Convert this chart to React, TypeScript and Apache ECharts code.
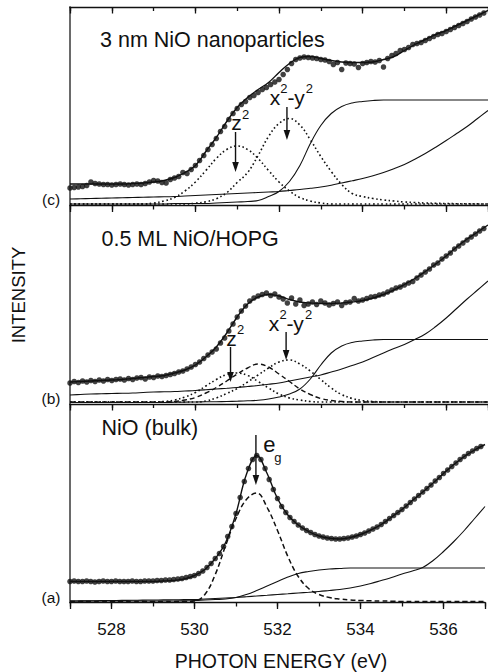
import React, { useEffect, useRef } from "react";
import * as echarts from "echarts";

// ---------- data ----------
const E_MIN = 527;
const E_MAX = 537;
const MAJOR_SPLITS = 5; // labelled ticks every 2 eV (528 … 536)
// sample energies of the fitted curves (0.25 eV grid) and of the measured points (0.1 eV grid)
const CURVE_E = Array.from({ length: 41 }, (_, i) => E_MIN + i * 0.25);
const DOT_E = Array.from({ length: 100 }, (_, i) => +(E_MIN + i * 0.1).toFixed(1));

const PANEL_TITLES = ["3 nm NiO nanoparticles", "0.5 ML NiO/HOPG", "NiO (bulk)"];
const PANEL_TAGS = ["(c)", "(b)", "(a)"];
const X_NAME = "PHOTON ENERGY (eV)";
const Y_NAME = "INTENSITY";

// ---- panel (c) 3 nm NiO nanoparticles ----
const dotsC = [
  17.5, 18, 18.5, 19, 20, 23.5, 22, 21.5, 21, 21,
  20.5, 21, 21.5, 21, 20.5, 21, 21.5, 21, 22, 23.5,
  25, 24.5, 23, 22.5, 26, 27.5, 29, 33, 32, 36,
  40, 45, 50, 56, 61, 67, 74, 79, 86, 92,
  97, 101, 104, 108, 110, 113, 116, 118, 121, 123.5,
  126, 131, 136, 142, 146, 147.5, 148.5, 148, 147.5, 147,
  146, 145.5, 144, 141, 143, 136, 142.5, 142, 141.5, 138,
  142, 143, 144, 143.5, 145, 138.5, 147, 150, 152, 155,
  156, 158, 161, 162, 163, 165, 167, 169, 171, 172,
  174, 176, 178, 180, 182, 184, 186.5, 188.5, 190.5, 192.5,
];
const fitC = [
  21.5, 21.5, 21.5, 21.5, 21.5, 21.5, 22, 22.5, 23.5, 25,
  28, 33, 40, 54, 68, 84, 98, 108, 116, 123,
  133, 142, 148, 149, 147, 145, 143.5, 143, 143, 143.5,
  146, 149, 155, 161, 166, 171, 175, 180, 185, 190, 195,
];
const stepC = [
  1.5, 1.5, 1.5, 1.5, 1.5, 1.5, 1.5, 1.5, 1.5, 1.5,
  2, 2, 2, 2, 2.5, 3, 3.5, 4, 5, 9,
  14, 24, 40, 62, 80, 92, 99, 102.5, 104, 105,
  105.5, 105.5, 105.5, 105.5, 105.5, 105.5, 105.5, 105.5, 105.5, 105.5, 105.5,
];
const bgC = [
  6.5, 6.7, 7, 7.2, 7.5, 7.7, 8, 8.2, 8.5, 8.7,
  9, 9.5, 10, 10.5, 11, 11.5, 12, 12.5, 13, 13.5,
  14, 15, 16, 17.2, 18.5, 20.3, 22.5, 24.7, 27, 29.8,
  33, 36.8, 41, 46.3, 52, 58.3, 65, 72, 79, 87, 95,
];
const z2C = [
  1.5, 1.5, 1.5, 1.5, 1.5, 1.5, 1.5, 1.5, 2.5, 4.5,
  8, 14.5, 23.5, 35, 47, 56, 59.5, 56, 47, 35,
  23.5, 14.5, 8, 4.5, 2.5, 1.5, 1.5, 1.5, 1.5, 1.5,
  1.5, 1.5, 1.5, 1.5, 1.5, 1.5, 1.5, 1.5, 1.5, 1.5, 1.5,
];
const x2y2C = [
  1.5, 1.5, 1.5, 1.5, 1.5, 1.5, 1.5, 1.5, 1.5, 1.5,
  1.5, 1.5, 2.3, 3.7, 6.8, 12.8, 23, 33, 50, 69,
  82, 87, 80.4, 65.7, 49, 34, 21, 12, 9, 7,
  5.5, 4.5, 3.5, 3, 2.5, 2.2, 2, 1.8, 1.7, 1.6, 1.5,
];

// ---- panel (b) 0.5 ML NiO/HOPG ----
const dotsB = [
  21, 22.5, 21.5, 23, 22, 23.5, 22.5, 24, 23, 24.5,
  23.5, 24.5, 25, 24, 25.5, 24.5, 26, 26.5, 25, 27,
  26.5, 28, 27.5, 28.5, 29.5, 30.5, 32, 33, 35, 37,
  39.5, 42, 45.5, 49, 52, 55, 61, 66, 73, 80,
  87, 93, 98, 103, 106, 108, 109.5, 111, 108.5, 110,
  107, 105, 101, 106, 100, 104, 98.5, 100, 102, 99.5,
  103, 101, 99, 100.5, 102, 98.5, 101.5, 102, 105.5, 103,
  104, 105.5, 107, 107.5, 109, 110, 112, 114, 116, 117,
  119, 121, 122.5, 126, 129, 132, 135, 139, 141, 145,
  148, 151, 155, 158, 161, 164, 167, 170, 173, 175.5,
];
const fitB = [
  22, 22.5, 23, 23.5, 24, 24.5, 25.5, 26.5, 27.5, 28.5,
  31, 34, 39, 47, 57, 71, 87, 100, 107, 109.5,
  108, 104.5, 102, 101, 100.5, 100.5, 101, 102, 103.5, 106,
  109.5, 114, 119.5, 125.5, 132.5, 140, 148, 157, 165, 172, 179,
];
const stepB = [
  1.5, 1.5, 1.5, 1.5, 1.5, 1.5, 1.5, 1.5, 1.5, 1.5,
  1.7, 1.9, 2, 2.2, 2.3, 2.5, 2.8, 3.2, 3.8, 5,
  7, 10, 15, 25, 39, 51, 58, 61.5, 63, 64,
  64.5, 64.5, 64.5, 64.5, 64.5, 64.5, 64.5, 64.5, 64.5, 64.5, 64.5,
];
const bgB = [
  9, 9.5, 10, 10.2, 10.5, 10.7, 11, 11.5, 12, 12.2,
  12.5, 13, 13.5, 14.2, 15, 15.7, 16.5, 17.5, 18.5, 19.7,
  21, 23, 25, 27, 29, 32, 35, 38.5, 42, 46.5,
  51, 55.5, 59.5, 64.5, 70, 77.5, 86, 95.5, 105, 114, 123,
];
const z2B = [
  2, 2, 2, 2, 2, 2, 2, 2, 2, 2.5,
  4, 7, 11.5, 18, 24.5, 29.5, 31, 28.5, 22.5, 16,
  10, 6, 4, 2.5, 2, 2, 2, 2, 2, 2,
  2, 2, 2, 2, 2, 2, 2, 2, 2, 2, 2,
];
const midB = [
  2, 2, 2, 2, 2, 2, 2, 2, 2, 2,
  2.5, 4, 6.5, 11, 16.5, 23, 30, 36, 40, 37,
  30, 22.5, 15, 9.5, 5.5, 3.5, 2.5, 2, 2, 2,
  2, 2, 2, 2, 2, 2, 2, 2, 2, 2, 2,
];
const x2y2B = [
  2, 2, 2, 2, 2, 2, 2, 2, 2, 2,
  2, 2, 2, 3, 6, 10.5, 15.5, 22, 29, 36,
  42, 44, 40, 33, 24.5, 16, 9.5, 5.5, 3.5, 2.5,
  2, 2, 2, 2, 2, 2, 2, 2, 2, 2, 2,
];

// ---- panel (a) NiO (bulk) ----
const dotsA = [
  21, 21.5, 21, 21, 21.5, 21, 20.5, 21, 21.5, 21,
  21, 21.5, 21, 21, 21, 21.5, 21, 21, 21.5, 21.5,
  21.5, 22, 22, 22.5, 22.5, 23, 23.5, 24, 25, 26,
  27, 29, 31.5, 35, 39, 44, 49, 56, 66, 76,
  89, 105, 121, 134, 143, 147, 143, 134, 123, 113,
  104, 96, 90, 85, 81, 77.5, 74.5, 72, 70, 68,
  66.5, 65.5, 64.5, 64, 63.5, 63.5, 64, 64.5, 65.5, 66.5,
  68, 69.5, 71.5, 73.5, 75.5, 78, 81, 84, 87, 90,
  93, 96.5, 100, 103.5, 107, 110.5, 114, 117.5, 121.5, 125,
  129, 132.5, 136, 139.5, 143, 146, 149, 151.5, 154, 156,
];
const fitA = [
  21, 21, 21, 21, 21, 21, 21, 21, 21, 21.5,
  22, 23.5, 27, 33, 44, 60, 89, 128, 147, 129,
  104, 87.5, 77.5, 71, 66.5, 64.2, 63.5, 65, 68, 72.5,
  78, 85.5, 93, 102, 110.5, 119.5, 129, 138, 146, 152.5, 158,
];
const stepA = [
  1.5, 1.5, 1.5, 1.5, 1.5, 1.5, 1.5, 1.5, 1.5, 1.5,
  1.5, 1.7, 2, 2.5, 3, 3.5, 5, 8, 12, 16.5,
  21, 25.5, 29, 31, 32.5, 33.5, 34, 34.5, 34.5, 34.5,
  34.5, 34.5, 34.5, 34.5, 34.5, 34.5, 34.5, 34.5, 34.5, 34.5, 34.5,
];
const bgA = [
  1.5, 1.6, 1.7, 1.9, 2, 2.1, 2.2, 2.4, 2.5, 2.6,
  2.7, 2.9, 3, 3.5, 4, 4.5, 5, 5.7, 6.5, 7.2,
  8, 8.7, 9.5, 10.2, 11, 12, 13, 14.5, 16.5, 19,
  22, 25, 28.5, 31.5, 35, 42, 51, 61, 72, 84, 96,
];
const egA = [
  1, 1, 1, 1, 1, 1, 1, 1, 1, 1,
  1, 1, 1.5, 8, 28, 57, 84, 103, 109.5, 95,
  72, 46, 26, 14, 8, 5, 3.5, 2.5, 2, 1.7,
  1.5, 1.3, 1, 1, 1, 1, 1, 1, 1, 1, 1,
];

// ---------- layout / style ----------
const FONT = "'Liberation Sans', Arial, Helvetica, sans-serif";
const GRID_LEFT = 70;
const GRID_WIDTH = 422;
const PANEL_TOPS = [7, 205.5, 404];
const PANEL_H = 198.5;
const Y_MAX = 198.5;
const INK = "#111";

type Part = { t: string; dx: number; dy: number; size: number };
const SUP = (dx: number, dy: number): Part => ({ t: "2", dx, dy, size: 13 });
const ARROWS: { panel: number; e: number; from: number; to: number; parts: Part[] }[] = [
  {
    panel: 0, e: 530.96, from: 73.5, to: 33.5,
    parts: [{ t: "z", dx: 1, dy: -10, size: 21 }, SUP(10, -18)],
  },
  {
    panel: 0, e: 532.19, from: 98.5, to: 65.5,
    parts: [
      { t: "x", dx: -12, dy: -10, size: 21 }, SUP(-3, -18.5),
      { t: "-", dx: 4, dy: -10, size: 21 },
      { t: "y", dx: 12.5, dy: -10, size: 21 }, SUP(22.5, -18.5),
    ],
  },
  {
    panel: 1, e: 530.84, from: 57, to: 22,
    parts: [{ t: "z", dx: 1, dy: -9, size: 21 }, SUP(10, -17.5)],
  },
  {
    panel: 1, e: 532.17, from: 72, to: 44,
    parts: [
      { t: "x", dx: -12, dy: -9, size: 21 }, SUP(-3, -17.5),
      { t: "-", dx: 4, dy: -9, size: 21 },
      { t: "y", dx: 12.5, dy: -9, size: 21 }, SUP(22.5, -17.5),
    ],
  },
  {
    panel: 2, e: 531.48, from: 167.5, to: 117.5,
    parts: [
      { t: "e", dx: 13.5, dy: 9, size: 22 },
      { t: "g", dx: 22, dy: 22, size: 13 },
    ],
  },
];

const pairs = (xs: number[], ys: number[]) => xs.map((x, i) => [x, ys[i]]);

export default function App() {
  const ref = useRef<HTMLDivElement>(null);

  useEffect(() => {
    if (!ref.current) return;
    const chart = echarts.init(ref.current, null, { renderer: "svg" });

    const grids = PANEL_TOPS.map((top) => ({
      left: GRID_LEFT, top, width: GRID_WIDTH, height: PANEL_H, containLabel: false,
    }));

    // major axis: automatic 2 eV ticks (528…536) with labels; minor axis: 1 eV short ticks
    const mkX = (gridIndex: number, position: "bottom" | "top", major: boolean, labels: boolean, inside: boolean) => ({
      type: "value", gridIndex, position, min: E_MIN, max: E_MAX,
      ...(major ? { splitNumber: MAJOR_SPLITS } : { interval: 1 }),
      axisLine: { show: major, onZero: false, lineStyle: { color: INK, width: 1.4 } },
      axisTick: { show: true, inside, length: major ? 6.5 : 4, lineStyle: { color: INK, width: 1.3 } },
      axisLabel: labels
        ? {
            show: true, margin: 18, color: INK, fontSize: 17, fontFamily: FONT,
            showMinLabel: true, showMaxLabel: true,
            formatter: (v: number) => (v % 2 === 0 ? String(v) : ""),
          }
        : { show: false },
      splitLine: { show: false },
      minorTick: { show: false },
    });

    const xAxis = [
      mkX(0, "bottom", true, false, false), // 0
      mkX(0, "bottom", false, false, false), // 1
      mkX(0, "top", true, false, true), // 2
      mkX(0, "top", false, false, true), // 3
      mkX(1, "bottom", true, false, false), // 4
      mkX(1, "bottom", false, false, false), // 5
      mkX(2, "bottom", true, true, false), // 6
      mkX(2, "bottom", false, false, false), // 7
    ];
    const X_OF_PANEL = [0, 4, 6];

    const yAxis = [0, 1, 2].map((g) => ({
      type: "value", gridIndex: g, min: 0, max: Y_MAX,
      axisLine: { show: true, lineStyle: { color: "#5a5a5a", width: 1.8 } },
      axisTick: { show: false }, axisLabel: { show: false }, splitLine: { show: false },
    }));

    const series: any[] = [];
    const line = (p: number, ys: number[], type: any, width: number, z = 2) => ({
      type: "line", xAxisIndex: X_OF_PANEL[p], yAxisIndex: p,
      data: pairs(CURVE_E, ys), showSymbol: false, smooth: 0.4, z,
      lineStyle: { color: INK, width, type }, silent: true,
    });
    const dots = (p: number, ys: number[]) => ({
      type: "scatter", xAxisIndex: X_OF_PANEL[p], yAxisIndex: p,
      data: pairs(DOT_E, ys), symbol: "circle", symbolSize: 5.5, z: 5,
      itemStyle: { color: INK }, silent: true,
    });
    const DOT = [1.6, 2.6];
    const DASH = [5, 3];

    // panel c
    series.push(line(0, bgC, "solid", 1.1));
    series.push(line(0, stepC, "solid", 1.1));
    series.push(line(0, z2C, DOT, 1.6));
    series.push(line(0, x2y2C, DOT, 1.6));
    series.push(line(0, fitC, "solid", 1.4, 4));
    series.push(dots(0, dotsC));
    // panel b
    series.push(line(1, bgB, "solid", 1.1));
    series.push(line(1, stepB, "solid", 1.1));
    series.push(line(1, z2B, DOT, 1.6));
    series.push(line(1, midB, DASH, 1.4));
    series.push(line(1, x2y2B, DOT, 1.6));
    series.push(line(1, fitB, "solid", 1.4, 4));
    series.push(dots(1, dotsB));
    // panel a
    series.push(line(2, bgA, "solid", 1.1));
    series.push(line(2, stepA, "solid", 1.1));
    series.push(line(2, egA, DASH, 1.5));
    series.push(line(2, fitA, "solid", 1.4, 4));
    series.push(dots(2, dotsA));

    const PANEL_SERIES = [0, 6, 13];

    chart.setOption({
      animation: false,
      backgroundColor: "#fff",
      grid: grids,
      xAxis,
      yAxis,
      series,
    });

    const text = (x: number, y: number, t: string, size: number, align = "left", rotation = 0) => ({
      type: "text", x, y, rotation, z: 100,
      style: {
        text: t, fill: INK, font: `${size}px ${FONT}`,
        textAlign: align, textVerticalAlign: "middle", align, verticalAlign: "middle",
      },
    });

    const graphics: any[] = [];
    const titleY = [40, 239.3, 427.5];
    const tagY = [199, 398, 597];
    PANEL_TITLES.forEach((t, i) => graphics.push(text(i === 0 ? 100 : 101.5, titleY[i], t, 21.5)));
    PANEL_TAGS.forEach((t, i) => graphics.push(text(51, tagY[i], t, 15.5, "center")));
    graphics.push(text(18.5, 295, Y_NAME, 18.5, "center", Math.PI / 2));
    graphics.push(text(GRID_LEFT + (GRID_WIDTH / (E_MAX - E_MIN)) * 5, 660.5, X_NAME, 19.5, "center"));

    ARROWS.forEach((a) => {
      const si = PANEL_SERIES[a.panel];
      const top = chart.convertToPixel({ seriesIndex: si }, [a.e, a.from]) as number[];
      const tip = chart.convertToPixel({ seriesIndex: si }, [a.e, a.to]) as number[];
      graphics.push({
        type: "line", z: 100,
        shape: { x1: top[0], y1: top[1], x2: tip[0], y2: tip[1] - 6 },
        style: { stroke: INK, lineWidth: 1.4 },
      });
      graphics.push({
        type: "polygon", z: 100,
        shape: { points: [[tip[0], tip[1]], [tip[0] - 3.3, tip[1] - 10], [tip[0] + 3.3, tip[1] - 10]] },
        style: { fill: INK },
      });
      a.parts.forEach((p) => graphics.push(text(top[0] + p.dx, top[1] + p.dy, p.t, p.size, "center")));
    });

    chart.setOption({ graphic: graphics });

    return () => chart.dispose();
  }, []);

  return (
    <div
      ref={ref}
      style={{ position: "fixed", left: 0, top: 0, width: 488, height: 672, background: "#fff" }}
    />
  );
}
